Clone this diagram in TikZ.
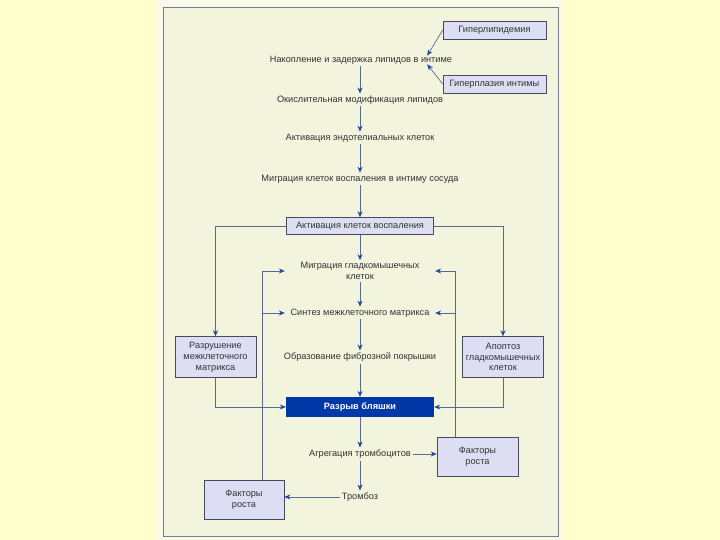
\documentclass[tikz,border=0pt]{standalone}
\usepackage{fontspec}
\setmainfont{Liberation Sans}
\usetikzlibrary{calc,arrows.meta}
\definecolor{pagebg}{RGB}{255,255,204}
\definecolor{scanedge}{RGB}{250,250,232}
\definecolor{panel}{RGB}{243,244,221}
\definecolor{panelline}{RGB}{120,125,140}
\definecolor{boxfill}{RGB}{221,222,243}
\definecolor{boxline}{RGB}{70,75,95}
\definecolor{plaque}{RGB}{0,56,168}
\definecolor{linkline}{RGB}{90,105,145}
\definecolor{arrowblue}{RGB}{30,70,160}
\tikzstyle{stage} = [text=black!80, font=\fontsize{9.2}{10.8}\selectfont, inner sep=2pt, align=center]
\tikzstyle{factor} = [rectangle, draw=boxline, fill=boxfill, line width=0.6pt, text=black!80, font=\fontsize{9.2}{10.8}\selectfont, align=center]
\tikzstyle{rupture} = [rectangle, fill=plaque, text=white, font=\fontsize{9.2}{10.8}\selectfont\bfseries, minimum width=148pt, minimum height=20pt]
\tikzstyle{arrow} = [draw=linkline, line width=0.7pt, ->, >={Stealth[length=6pt, width=5pt, color=arrowblue]}]

\begin{document}
\begin{tikzpicture}[x=1pt, y=-1pt]
        \useasboundingbox (0,0) rectangle (720,540);
        \fill[pagebg] (0,0) rectangle (720,540);
        \fill[scanedge] (155,0) rectangle (564,540);
        \draw[panelline, fill=panel, line width=0.6pt] (163,7) rectangle (558,536);

        % main column
        \node (nakop) [stage] at (361,60) {Накопление и задержка липидов в интиме};
        \node (okisl) [stage] at (360,100) {Окислительная модификация липидов};
        \node (endo) [stage, below of=okisl, node distance=38pt] {Активация эндотелиальных клеток};
        \node (migr) [stage, below of=endo, node distance=41pt] {Миграция клеток воспаления в интиму сосуда};
        \node (aktiv) [factor, below of=migr, node distance=47pt, minimum width=147pt, minimum height=17pt] {Активация клеток воспаления};
        \node (migrgl) [stage, below of=aktiv, node distance=45pt, minimum width=150pt] {Миграция гладкомышечных\\клеток};
        \node (sintez) [stage, below of=migrgl, node distance=42pt, minimum width=150pt] {Синтез межклеточного матрикса};
        \node (obraz) [stage, below of=sintez, node distance=44pt] {Образование фиброзной покрышки};
        \node (razryv) [rupture, below of=obraz, node distance=50pt] {Разрыв бляшки};
        \node (agreg) [stage, below of=razryv, node distance=47pt] {Агрегация тромбоцитов};
        \node (tromboz) [stage, below of=agreg, node distance=43pt] {Тромбоз};

        % side boxes
        \node (hyperlip) [factor, minimum width=103pt, minimum height=18pt] at (494.5,30) {Гиперлипидемия};
        \node (hyperplas) [factor, below of=hyperlip, node distance=54pt, minimum width=103pt, minimum height=18pt] {Гиперплазия интимы};
        \node (razrush) [factor, left of=obraz, node distance=144.5pt, minimum width=81pt, minimum height=41pt] {Разрушение\\межклеточного\\матрикса};
        \node (apopt) [factor, right of=obraz, node distance=143pt, minimum width=81pt, minimum height=41pt] {Апоптоз\\гладкомышечных\\клеток};
        \node (factR) [factor, right of=agreg, node distance=117.5pt, yshift=-2.5pt, minimum width=81pt, minimum height=39pt] {Факторы\\роста};
        \node (factL) [factor, left of=tromboz, node distance=116pt, yshift=-3pt, minimum width=80pt, minimum height=39pt] {Факторы\\роста};

        % arrows of the main column
        \draw [arrow] (hyperlip.west) -- ([xshift=-27pt, yshift=-2pt]nakop.north east);
        \draw [arrow] (hyperplas.west) -- ([xshift=-27pt, yshift=2pt]nakop.south east);
        \draw [arrow] (nakop.south -| okisl.north) -- (okisl.north);
        \draw [arrow] (okisl) -- (endo);
        \draw [arrow] (endo) -- (migr);
        \draw [arrow] (migr) -- (aktiv);
        \draw [arrow] (aktiv) -- (migrgl);
        \draw [arrow] (migrgl) -- (sintez);
        \draw [arrow] (sintez) -- (obraz);
        \draw [arrow] (obraz) -- (razryv);
        \draw [arrow] (razryv) -- (agreg);
        \draw [arrow] (agreg) -- (tromboz);
        \draw [arrow] (agreg.east) -- (agreg.east -| factR.west);
        \draw [arrow] (tromboz.west) -- (tromboz.west -| factL.east);

        % side loops
        \draw [arrow] (aktiv.west) -| (razrush.north);
        \draw [arrow] (aktiv.east) -| (apopt.north);
        \draw [arrow] (razrush.south) |- (razryv.west);
        \draw [arrow] (apopt.south) |- (razryv.east);
        \coordinate (lrise) at ([xshift=18pt]factL.north);
        \coordinate (rrise) at ([xshift=-22pt]factR.north);
        \draw [arrow] (lrise) |- (migrgl.west);
        \draw [arrow] (sintez.west -| lrise) -- (sintez.west);
        \draw [arrow] (rrise) |- (migrgl.east);
        \draw [arrow] (sintez.east -| rrise) -- (sintez.east);
    \end{tikzpicture}
\end{document}
